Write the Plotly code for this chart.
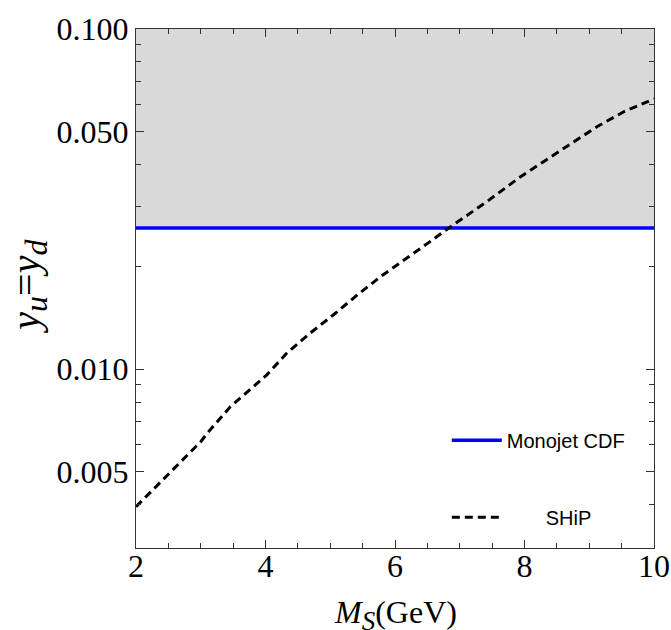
import math
import plotly.graph_objects as go

# Data
ms_ship = [2.0, 3.0, 3.12, 3.46, 4.02, 4.33, 4.69, 5.05, 5.42, 5.78, 6.58, 6.83,
           7.42, 7.94, 8.30, 8.76, 9.125, 9.54, 9.95, 10.0]
y_ship = [0.00394, 0.00612, 0.00655, 0.00776, 0.00962, 0.01115, 0.01276, 0.01445,
          0.01654, 0.01872, 0.0240, 0.0260, 0.0311, 0.0368, 0.0408, 0.0467,
          0.0517, 0.0572, 0.0617, 0.0623]
ms_range = [2.0, 10.0]
cdf_limit = [0.026, 0.026]
y_top = [0.1, 0.1]

y_major = [0.005, 0.01, 0.05, 0.1]
y_major_text = ["0.005", "0.010", "0.050", "0.100"]
y_minor = [0.003, 0.004, 0.006, 0.007, 0.008, 0.009, 0.02, 0.03, 0.04,
           0.06, 0.07, 0.08, 0.09]
x_major = [2, 4, 6, 8, 10]
x_minor = [2.5, 3, 3.5, 4.5, 5, 5.5, 6.5, 7, 7.5, 8.5, 9, 9.5]

x_title = "<i>M</i><sub><i><span style='font-size:27px'>S</span></i></sub>(GeV)"
y_title = ("<i>y</i><sub><i><span style='font-size:32px'>u</span></i></sub>="
           "<i>y</i><sub><i><span style='font-size:32px'>d</span></i></sub>")

fig = go.Figure()
fig.add_trace(go.Scatter(x=ms_range, y=y_top, mode="lines", line=dict(width=0),
                         showlegend=False, hoverinfo="skip"))
fig.add_trace(go.Scatter(x=ms_range, y=cdf_limit, mode="lines", line=dict(width=0),
                         fill="tonexty", fillcolor="#d9d9d9", showlegend=False,
                         hoverinfo="skip"))
fig.add_trace(go.Scatter(x=ms_range, y=cdf_limit, mode="lines", name="Monojet CDF",
                         line=dict(color="#0000ff", width=3.5), legendgroup="a"))
fig.add_trace(go.Scatter(x=ms_ship, y=y_ship, mode="lines",
                         name="\u00a0\u00a0\u00a0\u00a0\u00a0\u00a0\u00a0SHiP",
                         line=dict(color="black", width=3, dash="8px,5px"),
                         legendgroup="b"))

axis_common = dict(showline=True, linecolor="#333", linewidth=1.2, mirror="ticks",
                   ticks="inside", tickcolor="#333", showgrid=False, zeroline=False,
                   automargin=False,
                   tickfont=dict(family="Liberation Serif", size=32, color="black"))

fig.update_xaxes(range=ms_range, tickvals=x_major, ticklen=8, ticklabelstandoff=-11,
                 minor=dict(tickvals=x_minor, ticklen=5, ticks="inside", tickcolor="#333"),
                 **axis_common)
fig.update_yaxes(type="log", range=[math.log10(0.00298), -1], tickvals=y_major,
                 ticktext=y_major_text, ticklen=8,
                 minor=dict(tickvals=y_minor, ticklen=5, ticks="inside", tickcolor="#333"),
                 **axis_common)

fig.add_annotation(text=x_title, xref="paper", yref="paper", x=0.5, y=-0.13,
                   xanchor="center", yanchor="middle", showarrow=False,
                   font=dict(family="Liberation Serif", size=32, color="black"))
fig.add_annotation(text=y_title, xref="paper", yref="paper", x=-0.207, y=0.505,
                   xanchor="center", yanchor="middle", showarrow=False, textangle=-90,
                   font=dict(family="Liberation Serif", size=40, color="black"))

fig.update_layout(
    width=671, height=630,
    margin=dict(l=136, r=17, t=29, b=82),
    plot_bgcolor="white", paper_bgcolor="white",
    legend=dict(x=0.6, y=0.245, xanchor="left", yanchor="top", itemwidth=50,
                bgcolor="rgba(0,0,0,0)", tracegroupgap=48,
                font=dict(family="Liberation Sans", size=20, color="black")),
)

# remove the page's default body margin so the figure fills the window exactly
fig.write_html("out.html", config={"displayModeBar": False},
               post_script="document.body.style.margin='0';document.body.style.overflow='hidden';")
